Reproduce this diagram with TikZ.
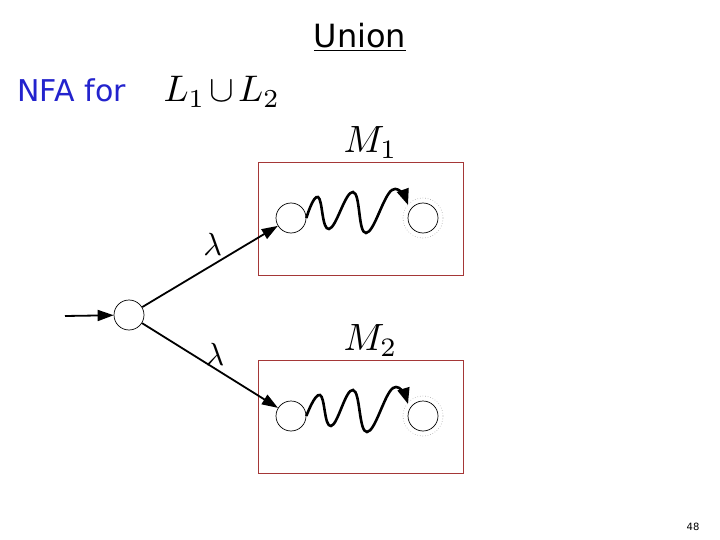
\documentclass[tikz,border=0pt]{standalone}
\usepackage{graphicx}
\usepackage{fontspec}
\newfontfamily\comicfont{DejaVu Sans}
\usetikzlibrary{positioning}
\usetikzlibrary{arrows.meta}
\definecolor{boxred}{RGB}{165,55,55}
\definecolor{nfablue}{RGB}{35,35,205}
\newcommand{\bigmath}[1]{\scalebox{3.8}{$#1$}}

\begin{document}
\begin{tikzpicture}[x=1pt,y=-1pt,
	state/.style={draw, circle, minimum size=30pt, inner sep=0pt, line width=0.7pt},
	ring/.style={draw=gray!70, dotted, circle, minimum size=40pt, inner sep=0pt, line width=0.6pt},
	machine/.style={draw=boxred, line width=0.8pt, minimum width=205pt, minimum height=113pt},
	trans/.style={-{Triangle[length=16pt,width=11pt]}, line width=1.8pt},
	wave/.style={-{Triangle[length=16pt,width=12pt]}, line width=2.6pt},
	lam/.style={inner sep=1pt}]
		\useasboundingbox (0,0) rectangle (720,540);
		% headings
		\node (title) at (360,37) {\comicfont\fontsize{32}{32}\selectfont\underline{Union}};
		\node (nfa) [anchor=west] at (14,90) {\comicfont\fontsize{30}{30}\selectfont\color{nfablue}NFA for};
		\node (lang) [anchor=west] at (160,92) {\scalebox{3.7}{$L_1\mskip2mu{\cup}\mskip2mu L_2$}};
		% the two machines
		\node (b1) [machine] at (360.5,218.5) {};
		\node (b2) [machine] at (360.5,416.5) {};
		\node (m1) [above=0pt of b1, xshift=10pt] {\bigmath{M_1}};
		\node (m2) [above=0pt of b2, xshift=10pt] {\bigmath{M_2}};
		\node (q1) [state] at (291,218) {};
		\node (f1) [state] at (423,218) {};
		\node (r1) [ring] at (423,218) {};
		\node (q2) [state] at (291,416) {};
		\node (f2) [state] at (423,416) {};
		\node (r2) [ring] at (423,416) {};
		\coordinate (t1) at (408,205);
		\coordinate (t2) at (408,404);
		% new start state
		\node (s0) [state] at (129,315) {};
		\coordinate (in) at (65,316);
		\draw[trans] (in) -- (s0);
		\draw[trans] (s0) -- node[lam, pos=0.52, above=7pt] {\scalebox{3.2}{$\lambda$}} (q1);
		\draw[trans] (s0) -- node[lam, pos=0.5, above=-2pt, xshift=5pt] {\scalebox{3.2}{$\lambda$}} (q2);
		% inside of each machine
		\draw[wave] plot[smooth, tension=0.75] coordinates {(q1.east) (318,197) (329,229) (353,192) (366,233) (392,190) (t1)};
		\draw[wave] plot[smooth, tension=0.75] coordinates {(q2.east) (320,395) (331,426) (353,390) (367,432) (393,388) (t2)};
		\node (page) at (693,527) {\comicfont\fontsize{10}{10}\selectfont 48};
\end{tikzpicture}
\end{document}
